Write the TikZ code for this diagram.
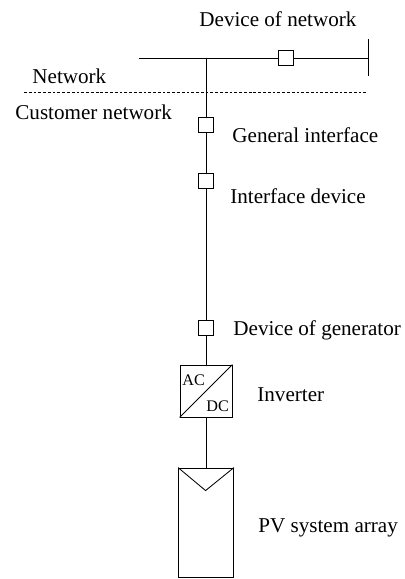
\documentclass[tikz,border=0pt]{standalone}
\usepackage{fontspec}
\setmainfont{Liberation Serif}
\usetikzlibrary{positioning}

\tikzset{
	sbox/.style = {draw, fill = white, minimum size = 0.375cm, inner sep = 0pt},
	lbl/.style = {anchor = base west, inner sep = 0pt, font = \fontsize{15}{18}\selectfont},
	small/.style = {anchor = base west, inner sep = 0pt, font = \fontsize{11.5}{13}\selectfont}
}

\begin{document}
\begin{tikzpicture}[x = 0.025cm, y = -0.025cm, line width = 0.6pt]
		\useasboundingbox (0,0) rectangle (404,579);
		
		\coordinate (busL) at (139,58);
		\coordinate (busR) at (368,58);
		\coordinate (barT) at (368,39);
		\coordinate (barB) at (368,76);
		\coordinate (J) at (206,58);
		\coordinate (dashL) at (24,92);
		\coordinate (dashR) at (368,92);
		
		\node [sbox] (devnet) at (286,58) {};
		\node [sbox] (genif) at (206,125) {};
		\node [sbox] (ifdev) at (206,181) {};
		\node [sbox] (devgen) at (206,328) {};
		\node [draw, minimum size = 1.3cm, inner sep = 0pt] (inv) at (206,391) {};
		\node [draw, minimum width = 1.375cm, minimum height = 2.725cm, inner sep = 0pt] (pv) at (206,522.5) {};
		
		\draw (busL) -- (devnet) -- (busR);
		\draw (barT) -- (barB);
		\draw [dash pattern = on 2pt off 1.4pt, line width = 0.4pt] (dashL) -- (dashR);
		\draw (J) -- (genif) -- (ifdev) -- (devgen) -- (inv) -- (pv);
		
		\draw (inv.south west) -- (inv.north east);
		\node [small] (ac) at (182,385) {AC};
		\node [small] (dc) at (206,411) {DC};
		
		\draw (pv.north west) -- ++(27.5,23) -- (pv.north east);
		
		\node [lbl] (devnetL) at (199,26) {Device of network};
		\node [lbl] (netL) at (32,83) {Network};
		\node [lbl] (custL) at (15,119) {Customer network};
		\node [lbl] (genifL) at (232,142) {General interface};
		\node [lbl] (ifdevL) at (230,203) {Interface device};
		\node [lbl] (devgenL) at (233,335) {Device of generator};
		\node [lbl] (invL) at (257,401) {Inverter};
		\node [lbl] (pvL) at (258,532) {PV system array};
	\end{tikzpicture}
\end{document}
